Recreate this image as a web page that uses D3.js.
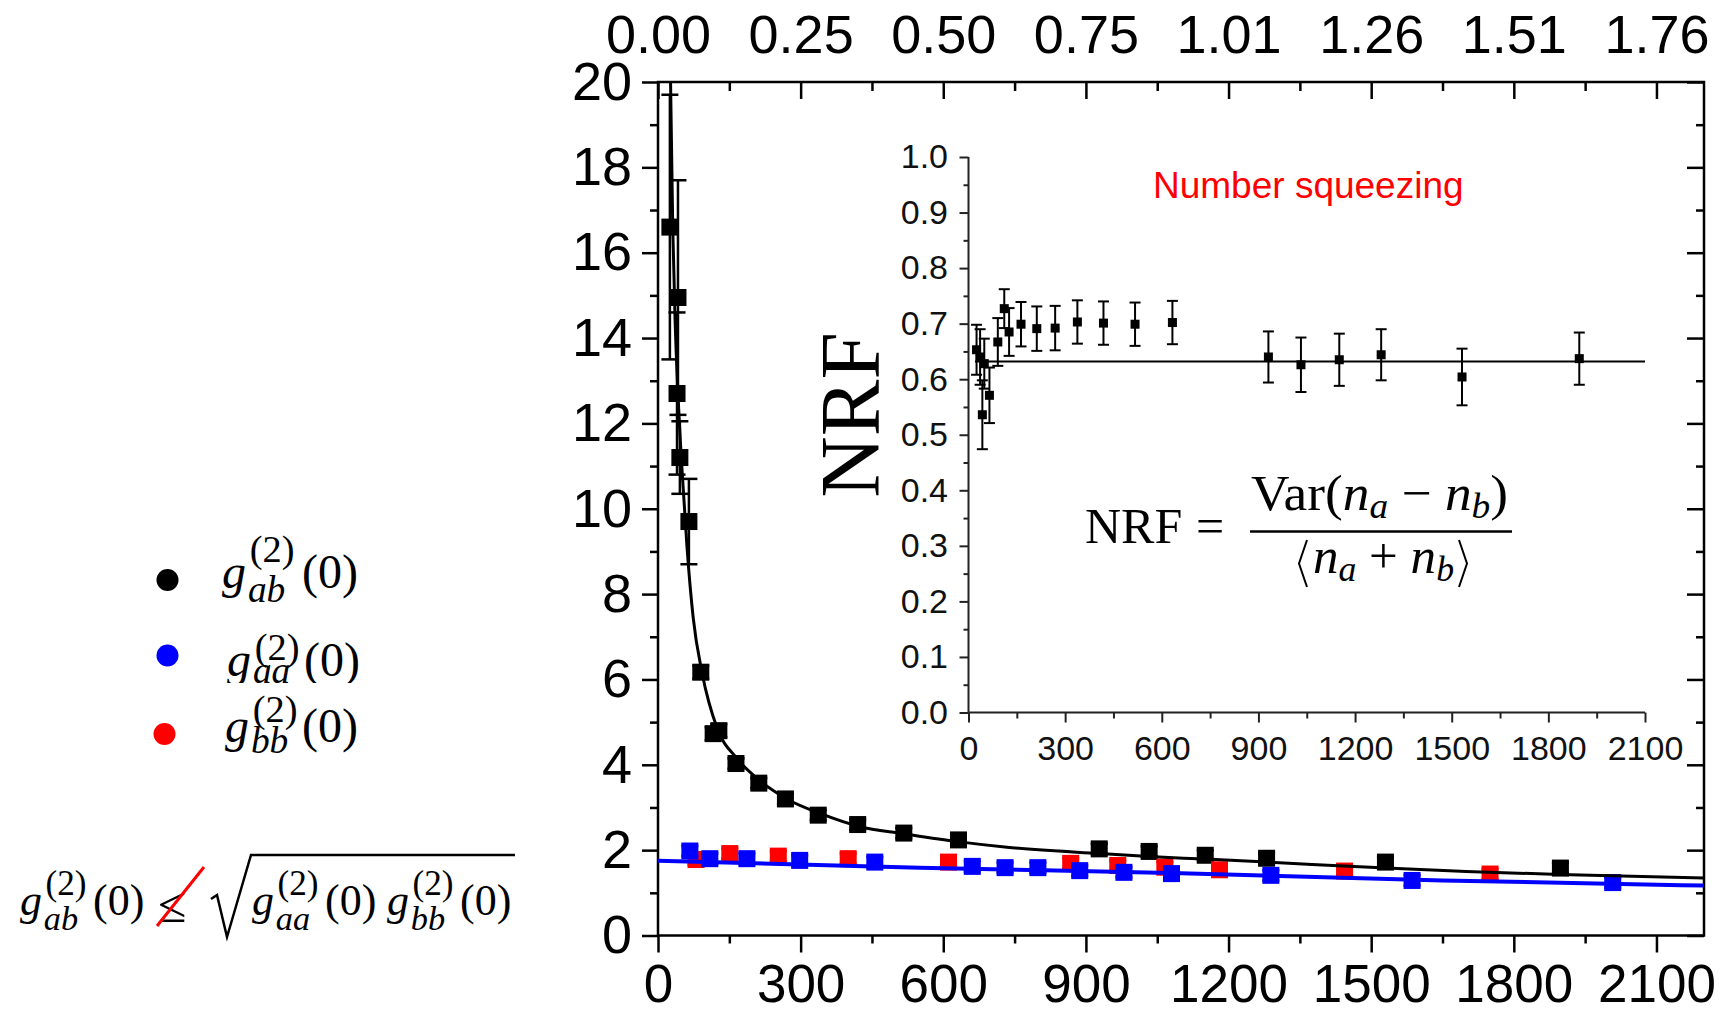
<!DOCTYPE html>
<html>
<head>
<meta charset="utf-8">
<script src="https://cdn.jsdelivr.net/npm/d3@7"></script>
<style>
body { margin: 0; background: #fff; }
svg { display: block; }
</style>
</head>
<body>
<svg width="1734" height="1013"></svg>
<script>
// ---- main plot: g2(0) vs counts ----
var abX   = [25, 42, 40, 46, 65, 90, 116, 128, 164, 212, 268, 337, 420, 517, 632, 928, 1033, 1151, 1280, 1530, 1898];
var abY   = [16.6, 14.95, 12.7, 11.2, 9.7, 6.17, 4.73, 4.8, 4.03, 3.57, 3.2, 2.82, 2.6, 2.4, 2.24, 2.03, 1.97, 1.88, 1.81, 1.72, 1.58];
var abErr = [3.1, 2.75, 1.9, 0.85, 1.0, 0.15, 0.15, 0.15, 0.12, 0.12, 0.12, 0.12, 0.12, 0.12, 0.12, 0.12, 0.12, 0.12, 0.12, 0.12, 0.12];

var aaX   = [67, 109, 187, 298, 456, 661, 730, 799, 887, 980, 1080, 1289, 1586, 2008];
var aaY   = [1.98, 1.8, 1.8, 1.76, 1.72, 1.62, 1.59, 1.59, 1.52, 1.48, 1.45, 1.41, 1.29, 1.24];
var aaErr = [0.12, 0.12, 0.12, 0.12, 0.12, 0.12, 0.12, 0.12, 0.12, 0.12, 0.12, 0.12, 0.12, 0.12];

var bbX   = [80, 151, 253, 400, 611, 868, 967, 1066, 1181, 1444, 1750];
var bbY   = [1.78, 1.92, 1.86, 1.8, 1.72, 1.69, 1.64, 1.6, 1.54, 1.51, 1.44];
var bbErr = [0.12, 0.12, 0.12, 0.12, 0.12, 0.12, 0.12, 0.12, 0.12, 0.12, 0.12];

// fit curves
var abFitX = [26, 31, 36, 42, 50, 61, 74, 93, 124, 166, 214, 271, 341, 425, 515, 630, 734, 929, 1033, 1151, 1280, 1531, 1700, 1897, 2200];
var abFitY = [20.3, 16.6, 14.4, 12.7, 11.0, 9.1, 7.45, 6.14, 4.87, 4.15, 3.63, 3.2, 2.86, 2.55, 2.39, 2.2, 2.07, 1.92, 1.85, 1.79, 1.72, 1.58, 1.5, 1.43, 1.35];
var aaFitX = [0, 550, 1100, 1650, 2200];
var aaFitY = [1.75, 1.59, 1.46, 1.29, 1.17];

var xTicks = [0, 300, 600, 900, 1200, 1500, 1800, 2100];
var xMinor = [150, 450, 750, 1050, 1350, 1650, 1950];
var topLabels = ["0.00", "0.25", "0.50", "0.75", "1.01", "1.26", "1.51", "1.76"];
var yTicks = [0, 2, 4, 6, 8, 10, 12, 14, 16, 18, 20];
var yMinor = [1, 3, 5, 7, 9, 11, 13, 15, 17, 19];

// ---- inset: NRF ----
var nrfX   = [25, 36, 43, 49, 65, 91, 111, 126, 163, 212, 269, 338, 419, 517, 633, 931, 1032, 1151, 1281, 1532, 1896];
var nrfY   = [0.653, 0.64, 0.536, 0.628, 0.571, 0.667, 0.727, 0.685, 0.699, 0.691, 0.692, 0.703, 0.701, 0.699, 0.702, 0.64, 0.626, 0.635, 0.644, 0.604, 0.637];
var nrfErr = [0.045, 0.05, 0.062, 0.045, 0.05, 0.043, 0.035, 0.043, 0.04, 0.04, 0.04, 0.039, 0.039, 0.039, 0.039, 0.046, 0.049, 0.047, 0.046, 0.051, 0.047];
var nrfFitX = [20, 2100];
var nrfFitY = [0.632, 0.632];
var nrfXTicks = [0, 300, 600, 900, 1200, 1500, 1800, 2100];
var nrfXMinor = [150, 450, 750, 1050, 1350, 1650, 1950];
var nrfYTicks = [0, 0.1, 0.2, 0.3, 0.4, 0.5, 0.6, 0.7, 0.8, 0.9, 1.0];
var nrfYMinor = [0.05, 0.15, 0.25, 0.35, 0.45, 0.55, 0.65, 0.75, 0.85, 0.95];

var legendSubs = ["ab", "aa", "bb"];
var legendColors = ["#000000", "#0000ff", "#ff0000"];

var SANS = '"Liberation Sans", Arial, sans-serif';
var SERIF = '"Liberation Serif", "Times New Roman", serif';

var svg = d3.select("svg");

var x = d3.scaleLinear().domain([0, 2200]).range([658, 1704]);
var y = d3.scaleLinear().domain([0, 20]).range([935.5, 82]);

function styleAxis(g, sw, col) {
    g.select(".domain").remove();
    g.selectAll("line").attr("stroke", col).attr("stroke-width", sw);
    g.selectAll("text").attr("fill", col).style("font-family", SANS);
}

// bottom axis
var gb = svg.append("g").attr("transform", "translate(0,935.5)")
    .call(d3.axisBottom(x).tickValues(xMinor).tickSize(8).tickFormat(""));
styleAxis(gb, 2.5, "#000");
var gb2 = svg.append("g").attr("transform", "translate(0,935.5)")
    .call(d3.axisBottom(x).tickValues(xTicks).tickSize(17).tickFormat(d3.format("d")));
styleAxis(gb2, 2.5, "#000");
gb2.selectAll("text").attr("y", 66.5).attr("dy", 0).style("font-size", "53px");

// top axis
var gt = svg.append("g").attr("transform", "translate(0,82)")
    .call(d3.axisTop(x).tickValues(xMinor).tickSize(-9).tickFormat(""));
styleAxis(gt, 2.5, "#000");
var gt2 = svg.append("g").attr("transform", "translate(0,82)")
    .call(d3.axisTop(x).tickValues(xTicks).tickSize(-17).tickFormat(function(d, i) { return topLabels[i]; }));
styleAxis(gt2, 2.5, "#000");
gt2.selectAll("text").attr("y", -29).attr("dy", 0).style("font-size", "54px");

// left axis
var gl = svg.append("g").attr("transform", "translate(658,0)")
    .call(d3.axisLeft(y).tickValues(yMinor).tickSize(8).tickFormat(""));
styleAxis(gl, 2.5, "#000");
var gl2 = svg.append("g").attr("transform", "translate(658,0)")
    .call(d3.axisLeft(y).tickValues(yTicks).tickSize(16).tickFormat(d3.format("d")));
styleAxis(gl2, 2.5, "#000");
gl2.selectAll("text").attr("x", -26).style("font-size", "54px");

// right axis
var gr = svg.append("g").attr("transform", "translate(1704,0)")
    .call(d3.axisRight(y).tickValues(yMinor).tickSize(-8).tickFormat(""));
styleAxis(gr, 2.5, "#000");
var gr2 = svg.append("g").attr("transform", "translate(1704,0)")
    .call(d3.axisRight(y).tickValues(yTicks).tickSize(-17).tickFormat(""));
styleAxis(gr2, 2.5, "#000");

svg.append("rect")
    .attr("x", x(0)).attr("y", y(20))
    .attr("width", x(2200) - x(0)).attr("height", y(0) - y(20))
    .attr("fill", "none").attr("stroke", "#000").attr("stroke-width", 2.5);

svg.append("clipPath").attr("id", "plotclip")
    .append("rect")
    .attr("x", x(0)).attr("y", y(20))
    .attr("width", x(2200) - x(0)).attr("height", y(0) - y(20));

function drawSeries(g, xs, ys, es, sx, sy, color, size, cap, sw) {
    var data = xs.map(function(d, i) { return {x: d, y: ys[i], e: es[i]}; });
    var s = g.append("g");
    s.selectAll(".eb").data(data).enter().append("line")
        .attr("class", "eb")
        .attr("x1", function(d) { return sx(d.x); })
        .attr("x2", function(d) { return sx(d.x); })
        .attr("y1", function(d) { return sy(d.y - d.e); })
        .attr("y2", function(d) { return sy(d.y + d.e); })
        .attr("stroke", color).attr("stroke-width", sw);
    [-1, 1].forEach(function(k) {
        s.selectAll(".cap" + k).data(data).enter().append("line")
            .attr("x1", function(d) { return sx(d.x) - cap / 2; })
            .attr("x2", function(d) { return sx(d.x) + cap / 2; })
            .attr("y1", function(d) { return sy(d.y + k * d.e); })
            .attr("y2", function(d) { return sy(d.y + k * d.e); })
            .attr("stroke", color).attr("stroke-width", sw);
    });
    s.selectAll("rect").data(data).enter().append("rect")
        .attr("x", function(d) { return sx(d.x) - size / 2; })
        .attr("y", function(d) { return sy(d.y) - size / 2; })
        .attr("width", size).attr("height", size)
        .attr("fill", color);
}

var plot = svg.append("g").attr("clip-path", "url(#plotclip)");
drawSeries(plot, abX, abY, abErr, x, y, "#000", 17, 17, 2.5);
drawSeries(plot, bbX, bbY, bbErr, x, y, "#ff0000", 17, 17, 2.5);
drawSeries(plot, aaX, aaY, aaErr, x, y, "#0000ff", 17, 17, 2.5);

var line = d3.line()
    .x(function(d) { return x(d[0]); })
    .y(function(d) { return y(d[1]); })
    .curve(d3.curveMonotoneX);

plot.append("path")
    .datum(abFitX.map(function(d, i) { return [d, abFitY[i]]; }))
    .attr("d", line).attr("fill", "none").attr("stroke", "#000").attr("stroke-width", 3);
plot.append("path")
    .datum(aaFitX.map(function(d, i) { return [d, aaFitY[i]]; }))
    .attr("d", line).attr("fill", "none").attr("stroke", "#0000ff").attr("stroke-width", 4);

// ---- inset ----
var ix = d3.scaleLinear().domain([0, 2100]).range([968.5, 1645]);
var iy = d3.scaleLinear().domain([0, 1]).range([712.5, 157]);
var inset = svg.append("g");

var ib = inset.append("g").attr("transform", "translate(0,712.5)")
    .call(d3.axisBottom(ix).tickValues(nrfXMinor).tickSize(6).tickFormat(""));
styleAxis(ib, 2, "#222");
var ib2 = inset.append("g").attr("transform", "translate(0,712.5)")
    .call(d3.axisBottom(ix).tickValues(nrfXTicks).tickSize(10).tickFormat(d3.format("d")));
styleAxis(ib2, 2, "#222");
ib2.selectAll("text").attr("y", 47.5).attr("dy", 0).style("font-size", "34px").attr("fill", "#111");

var il = inset.append("g").attr("transform", "translate(968.5,0)")
    .call(d3.axisLeft(iy).tickValues(nrfYMinor).tickSize(5).tickFormat(""));
styleAxis(il, 2, "#222");
var il2 = inset.append("g").attr("transform", "translate(968.5,0)")
    .call(d3.axisLeft(iy).tickValues(nrfYTicks).tickSize(9).tickFormat(d3.format(".1f")));
styleAxis(il2, 2, "#222");
il2.selectAll("text").attr("x", -20.5).style("font-size", "34px").attr("fill", "#111");

inset.append("line").attr("x1", ix(0)).attr("x2", ix(2100)).attr("y1", iy(0)).attr("y2", iy(0))
    .attr("stroke", "#222").attr("stroke-width", 2);
inset.append("line").attr("x1", ix(0)).attr("x2", ix(0)).attr("y1", iy(0)).attr("y2", iy(1))
    .attr("stroke", "#222").attr("stroke-width", 2);

inset.append("path")
    .datum(nrfFitX.map(function(d, i) { return [d, nrfFitY[i]]; }))
    .attr("d", d3.line().x(function(d) { return ix(d[0]); }).y(function(d) { return iy(d[1]); }))
    .attr("fill", "none").attr("stroke", "#000").attr("stroke-width", 2);

drawSeries(inset, nrfX, nrfY, nrfErr, ix, iy, "#000", 9, 11, 2);

inset.append("text")
    .attr("x", 1153).attr("y", 198)
    .style("font-family", SANS).style("font-size", "37px")
    .attr("fill", "#ff0000")
    .text("Number squeezing");

inset.append("text")
    .attr("transform", "translate(879,415) rotate(-90)")
    .attr("text-anchor", "middle")
    .style("font-family", SERIF).style("font-size", "85px")
    .text("NRF");

// NRF = Var(na - nb) / <na + nb>
var fm = inset.append("g").style("font-family", SERIF).attr("fill", "#000");
fm.append("text").attr("x", 1085).attr("y", 543).style("font-size", "50px").text("NRF");
fm.append("text").attr("x", 1196).attr("y", 543).style("font-size", "50px").text("=");
fm.append("line").attr("x1", 1250).attr("x2", 1512).attr("y1", 531.5).attr("y2", 531.5)
    .attr("stroke", "#000").attr("stroke-width", 2.5);
var num = fm.append("text").attr("x", 1251).attr("y", 510).style("font-size", "50px")
    .attr("textLength", 257).attr("lengthAdjust", "spacingAndGlyphs");
num.append("tspan").text("Var(");
num.append("tspan").style("font-style", "italic").text("n");
num.append("tspan").style("font-style", "italic").style("font-size", "35px").attr("dy", 8).text("a");
num.append("tspan").attr("dy", -8).text(" \u2212 ");
num.append("tspan").style("font-style", "italic").text("n");
num.append("tspan").style("font-style", "italic").style("font-size", "35px").attr("dy", 8).text("b");
num.append("tspan").attr("dy", -8).text(")");
var den = fm.append("text").attr("x", 1313).attr("y", 573).style("font-size", "50px")
    .attr("textLength", 141).attr("lengthAdjust", "spacingAndGlyphs");
den.append("tspan").style("font-style", "italic").text("n");
den.append("tspan").style("font-style", "italic").style("font-size", "35px").attr("dy", 8).text("a");
den.append("tspan").attr("dy", -8).text(" + ");
den.append("tspan").style("font-style", "italic").text("n");
den.append("tspan").style("font-style", "italic").style("font-size", "35px").attr("dy", 8).text("b");
fm.append("path").attr("d", "M1307,540 L1299,563.5 L1307,587").attr("fill", "none")
    .attr("stroke", "#000").attr("stroke-width", 2);
fm.append("path").attr("d", "M1459,540 L1467,563.5 L1459,587").attr("fill", "none")
    .attr("stroke", "#000").attr("stroke-width", 2);

// ---- legend and inequality on the left ----
// one text element per term: g, superscript (2), subscript, (0)
function gTerm(g, gx, gy, fs, sub, supUp, subDown, parenDx) {
    var t = g.append("text").style("font-size", fs + "px");
    t.append("tspan").attr("x", gx).attr("y", gy).style("font-style", "italic").text("g");
    t.append("tspan").attr("x", gx + 0.58 * fs).attr("y", gy - supUp)
        .style("font-size", (0.8 * fs) + "px").text("(2)");
    t.append("tspan").attr("x", gx + 0.54 * fs).attr("y", gy + subDown).style("font-style", "italic")
        .style("font-size", (0.78 * fs) + "px").text(sub);
    t.append("tspan").attr("x", gx + parenDx).attr("y", gy).text("(0)");
    return t;
}

svg.append("clipPath").attr("id", "legclip")
    .append("rect").attr("x", 0).attr("y", 600).attr("width", 600).attr("height", 83);

var leg = svg.append("g").style("font-family", SERIF).attr("fill", "#000");
var legDots = [[167.5, 580], [167.5, 655.5], [164.5, 734]];
var legText = [[222, 588, 26, 14, 80], [227, 676, 16, 7, 77], [225, 742, 20, 11, 77]];
legendSubs.forEach(function(s, i) {
    leg.append("circle").attr("cx", legDots[i][0]).attr("cy", legDots[i][1]).attr("r", 11)
        .attr("fill", legendColors[i]);
    var t = leg.append("g");
    if (i === 1) t.attr("clip-path", "url(#legclip)");
    gTerm(t, legText[i][0], legText[i][1], 48, s, legText[i][2], legText[i][3], legText[i][4]);
});

var ineq = svg.append("g").style("font-family", SERIF).attr("fill", "#000");
gTerm(ineq, 20, 915, 44, legendSubs[0], 20, 15, 73);
ineq.append("text").attr("x", 158).attr("y", 922).style("font-size", "52px").text("\u2264");
ineq.append("line").attr("x1", 157).attr("y1", 926).attr("x2", 204).attr("y2", 867)
    .attr("stroke", "#ff0000").attr("stroke-width", 3);
ineq.append("path").attr("d", "M211,899 L217,895 L227,937 L251,855 L515,855")
    .attr("fill", "none").attr("stroke", "#000").attr("stroke-width", 2.5);
gTerm(ineq, 252, 915, 44, legendSubs[1], 20, 15, 73);
gTerm(ineq, 387, 915, 44, legendSubs[2], 20, 15, 73);
</script>
</body>
</html>
